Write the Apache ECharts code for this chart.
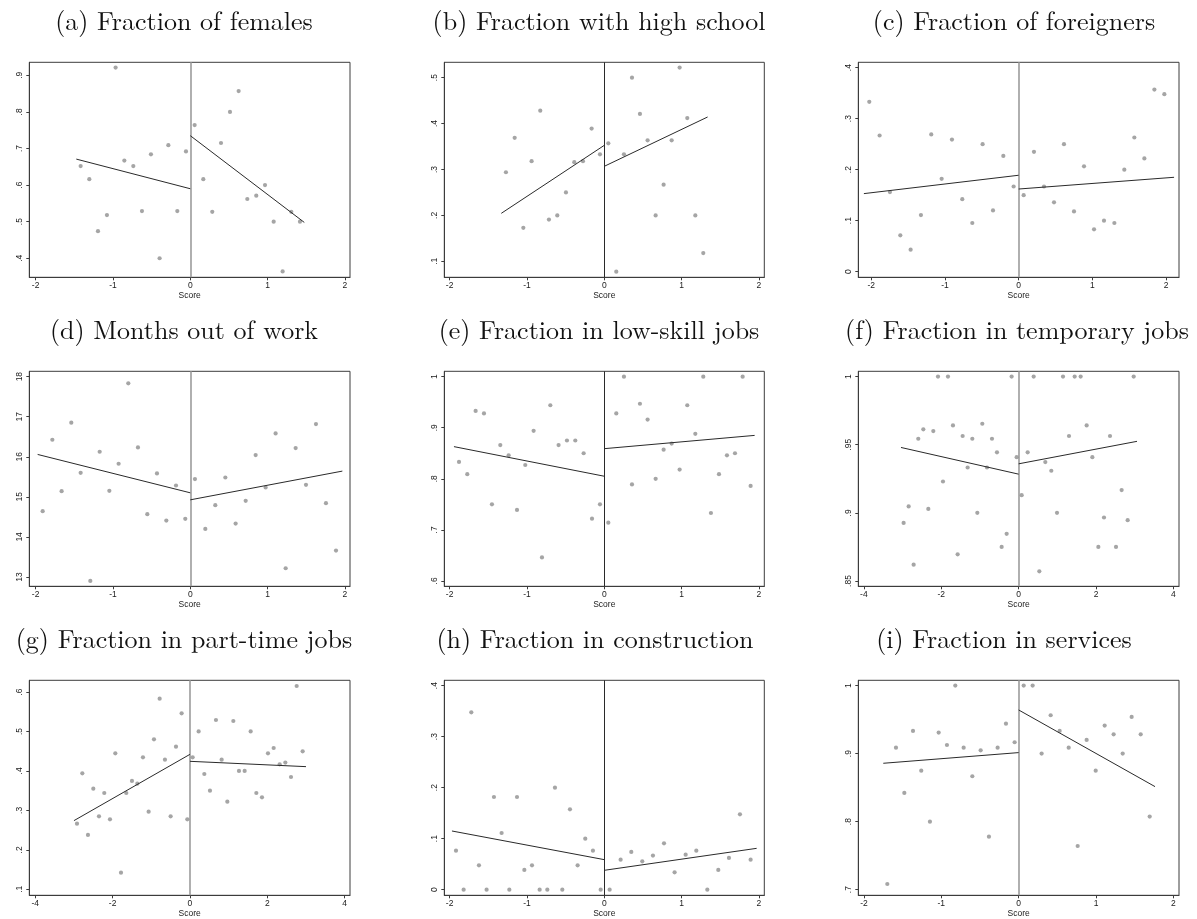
<!DOCTYPE html>
<html><head><meta charset="utf-8">
<script src="https://cdn.jsdelivr.net/npm/echarts@6/dist/echarts.min.js"></script>
<style>html,body{margin:0;padding:0;background:#fff}#c{width:1197px;height:919px}</style>
</head><body><div id="c"></div>
<script>
// ---------- data ----------
const titles = ['(a) Fraction of females','(b) Fraction with high school','(c) Fraction of foreigners',
  '(d) Months out of work','(e) Fraction in low-skill jobs','(f) Fraction in temporary jobs',
  '(g) Fraction in part-time jobs','(h) Fraction in construction','(i) Fraction in services'];

const aScore = [-1.418,-1.306,-1.194,-1.078,-0.966,-0.853,-0.737,-0.625,-0.509,-0.397,-0.284,-0.168,-0.056,0.056,0.168,0.284,0.397,0.513,0.625,0.737,0.853,0.966,1.078,1.194,1.306,1.418];
const aValue = [.652,.616,.474,.518,.921,.667,.652,.529,.684,.400,.709,.529,.692,.764,.616,.527,.715,.800,.857,.562,.571,.600,.500,.364,.527,.500];
const aFitL = [[-1.474,.671],[0,.590]];
const aFitR = [[0,.735],[1.474,.498]];
const aXTicks = [-2,-1,0,1,2];
const aYTicks = [.4,.5,.6,.7,.8,.9];

const bScore = [-1.272,-1.159,-1.047,-0.940,-0.828,-0.716,-0.608,-0.496,-0.388,-0.276,-0.164,-0.056,0.052,0.155,0.254,0.358,0.461,0.560,0.664,0.767,0.871,0.974,1.073,1.177,1.280];
const bValue = [.294,.369,.173,.318,.428,.191,.200,.250,.316,.318,.389,.333,.357,.0775,.333,.500,.421,.3635,.200,.267,.3635,.522,.412,.200,.118];
const bFitL = [[-1.332,.2045],[0,.3526]];
const bFitR = [[0,.3069],[1.336,.4143]];
const bXTicks = [-2,-1,0,1,2];
const bYTicks = [.1,.2,.3,.4,.5];

const cScore = [-2.027,-1.887,-1.747,-1.606,-1.466,-1.326,-1.186,-1.045,-0.905,-0.765,-0.629,-0.489,-0.348,-0.208,-0.068,0.068,0.208,0.344,0.480,0.615,0.751,0.887,1.023,1.158,1.299,1.434,1.570,1.706,1.842,1.977];
const cValue = [.333,.267,.156,.0712,.0431,.111,.269,.182,.259,.142,.0954,.250,.120,.227,.167,.150,.235,.167,.136,.250,.118,.2065,.083,.100,.0954,.200,.263,.222,.357,.348];
const cFitL = [[-2.100,.153],[0,.189]];
const cFitR = [[0,.162],[2.109,.185]];
const cXTicks = [-2,-1,0,1,2];
const cYTicks = [0,.1,.2,.3,.4];

const dScore = [-1.909,-1.784,-1.664,-1.539,-1.418,-1.293,-1.172,-1.047,-0.927,-0.802,-0.677,-0.556,-0.431,-0.310,-0.185,-0.065,0.060,0.194,0.323,0.453,0.586,0.716,0.845,0.974,1.103,1.233,1.362,1.496,1.625,1.754,1.884];
const dValue = [14.642,16.425,15.142,16.85,15.6,12.9,16.125,15.15,15.825,17.833,16.233,14.567,15.583,14.408,15.283,14.45,15.442,14.2,14.792,15.483,14.333,14.9,16.042,15.233,16.583,13.217,16.217,15.3,16.817,14.842,13.658];
const dFitL = [[-1.974,16.058],[0,15.1]];
const dFitR = [[0,14.925],[1.966,15.642]];
const dXTicks = [-2,-1,0,1,2];
const dYTicks = [13,14,15,16,17,18];

const eScore = [-1.879,-1.772,-1.664,-1.556,-1.453,-1.345,-1.237,-1.129,-1.022,-0.914,-0.806,-0.698,-0.591,-0.483,-0.375,-0.267,-0.159,-0.056,0.052,0.155,0.254,0.358,0.461,0.560,0.664,0.767,0.871,0.974,1.073,1.177,1.280,1.379,1.483,1.586,1.690,1.789,1.892];
const eValue = [.833,.809,.933,.928,.750,.866,.846,.739,.827,.894,.646,.944,.866,.875,.875,.850,.722,.750,.714,.928,1,.789,.947,.916,.800,.857,.869,.818,.944,.888,1,.733,.809,.846,.850,1,.786];
const eFitL = [[-1.944,.863],[0,.805]];
const eFitR = [[0,.859],[1.944,.885]];
const eXTicks = [-2,-1,0,1,2];
const eYTicks = [.6,.7,.8,.9,1];

const fScore = [-2.972,-2.842,-2.713,-2.593,-2.463,-2.334,-2.205,-2.084,-1.955,-1.826,-1.697,-1.576,-1.447,-1.318,-1.197,-1.068,-0.939,-0.818,-0.689,-0.560,-0.439,-0.310,-0.181,-0.052,0.078,0.233,0.388,0.534,0.689,0.844,0.991,1.146,1.301,1.447,1.602,1.757,1.904,2.059,2.205,2.360,2.515,2.661,2.817,2.972];
const fValue = [.8926,.9047,.862,.9544,.9613,.9029,.96,1,.923,1,.9642,.8696,.9564,.9333,.9544,.9,.9654,.9333,.9544,.9444,.875,.8846,1,.9409,.913,.9444,1,.8571,.9373,.9309,.9,1,.9564,1,1,.9642,.9409,.875,.8966,.9564,.875,.9167,.8946,1];
const fFitL = [[-3.040,.948],[0,.9284]];
const fFitR = [[0,.936],[3.058,.9525]];
const fXTicks = [-4,-2,0,2,4];
const fYTicks = [.85,.9,.95,1];

const gScore = [-2.922,-2.784,-2.638,-2.5,-2.353,-2.216,-2.069,-1.931,-1.784,-1.647,-1.5,-1.362,-1.216,-1.069,-0.931,-0.784,-0.647,-0.5,-0.362,-0.216,-0.069,0.069,0.224,0.371,0.517,0.672,0.819,0.966,1.121,1.267,1.414,1.569,1.716,1.862,2.017,2.164,2.319,2.466,2.612,2.759,2.914];
const gValue = [.2664,.3939,.2377,.355,.285,.344,.2774,.4446,.1422,.344,.3745,.3677,.4345,.2968,.48,.5831,.4285,.285,.4615,.5459,.2774,.4345,.5,.3922,.35,.529,.4285,.3221,.5265,.4,.4,.5,.344,.3331,.4446,.4581,.4167,.421,.3846,.6152,.4497];
const gFitL = [[-3.0,.274],[0,.442]];
const gFitR = [[0,.4243],[3.0,.4108]];
const gXTicks = [-4,-2,0,2,4];
const gYTicks = [.1,.2,.3,.4,.5,.6];

const hScore = [-1.918,-1.819,-1.720,-1.621,-1.522,-1.427,-1.328,-1.228,-1.129,-1.034,-0.935,-0.836,-0.737,-0.638,-0.543,-0.444,-0.345,-0.246,-0.147,-0.047,0.069,0.211,0.349,0.491,0.629,0.772,0.909,1.052,1.190,1.332,1.474,1.612,1.754,1.892];
const hValue = [.0765,0,.3477,.0477,0,.1817,.1111,0,.1817,.0386,.0477,0,0,.2,0,.1575,.0477,.1,.0765,0,0,.0588,.0739,.0556,.0667,.0908,.034,.0686,.0765,0,.0386,.0621,.1477,.0588];
const hFitL = [[-1.970,.115],[0,.0588]];
const hFitR = [[0,.0379],[1.970,.081]];
const hXTicks = [-2,-1,0,1,2];
const hYTicks = [0,.1,.2,.3,.4];

const iScore = [-1.698,-1.586,-1.478,-1.366,-1.259,-1.147,-1.034,-0.927,-0.819,-0.711,-0.599,-0.491,-0.384,-0.272,-0.164,-0.052,0.065,0.181,0.297,0.414,0.530,0.647,0.763,0.879,0.996,1.112,1.228,1.345,1.461,1.578,1.694];
const iValue = [.7083,.9088,.8422,.9333,.875,.8,.9309,.9127,1,.9088,.8667,.9049,.7779,.9088,.9441,.9167,1,1,.9,.9564,.9333,.9088,.7642,.9201,.875,.9412,.9284,.9,.9539,.9284,.8074];
const iFitL = [[-1.75,.8858],[0,.9015]];
const iFitR = [[0,.9642],[1.763,.8515]];
const iXTicks = [-2,-1,0,1,2];
const iYTicks = [.7,.8,.9,1];

// ---------- panel assembly ----------
const panelData = [
  [aScore,aValue,aFitL,aFitR,aXTicks,aYTicks],
  [bScore,bValue,bFitL,bFitR,bXTicks,bYTicks],
  [cScore,cValue,cFitL,cFitR,cXTicks,cYTicks],
  [dScore,dValue,dFitL,dFitR,dXTicks,dYTicks],
  [eScore,eValue,eFitL,eFitR,eXTicks,eYTicks],
  [fScore,fValue,fFitL,fFitR,fXTicks,fYTicks],
  [gScore,gValue,gFitL,gFitR,gXTicks,gYTicks],
  [hScore,hValue,hFitL,hFitR,hXTicks,hYTicks],
  [iScore,iValue,iFitL,iFitR,iXTicks,iYTicks]
];
// layout / style (kept apart from the data)
const xRange = [[-2.082,2.065],[-2.069,2.069],[-2.176,2.176],[-2.082,2.065],[-2.069,2.069],[-4.143,4.143],[-4.155,4.138],[-2.069,2.069],[-2.073,2.073]];
const yRange = [[0.348,0.9355],[0.0652,0.5334],[-0.0111,0.4105],[12.767,18.133],[0.5895,1.0105],[0.8461,1.0039],[0.0848,0.6296],[-0.0111,0.4105],[0.6917,1.0078]];
const darkZeroLine = [false,true,false,false,true,false,false,true,false];
const colLeft = [29.3,444.3,858.3], colWidth = [320.7,320,320.7];
const rowTop = [62.3,371.3,680.3], rowHeight = 215;
const titleCenter = [179,594,1009,179,594,1012,179,590,999];
const titleTop = [4,313,622];

const AX = '#3c3c3c', TXT = '#1a1a1a', SANS = '"Liberation Sans", Arial, Helvetica, sans-serif';
function fmt(v){
  const s = String(Math.round(v*1000)/1000);
  return s.replace(/^0\./,'.').replace(/^-0\./,'-.');
}

const option = {animation:false, backgroundColor:'#fff', title:[], grid:[], xAxis:[], yAxis:[], series:[]};
panelData.forEach((p,i)=>{
  const [score,val,fitL,fitR,xT,yT] = p;
  const r = Math.floor(i/3), c = i%3;
  option.title.push({text:titles[i], left:titleCenter[i], top:titleTop[r], textAlign:'center',
    textStyle:{fontFamily:'"Latin Modern Roman","CMU Serif","Liberation Serif","Times New Roman",serif', fontSize:26, fontWeight:'normal', color:'#111'}});
  option.grid.push({left:colLeft[c], top:rowTop[r], width:colWidth[c], height:rowHeight,
    show:true, borderColor:AX, borderWidth:1, backgroundColor:'#fff', containLabel:false, outerBoundsMode:'none'});
  option.xAxis.push({gridIndex:i, type:'value', min:xRange[i][0], max:xRange[i][1],
    axisLine:{show:true, onZero:false, lineStyle:{color:AX, width:1}},
    axisTick:{show:true, length:3, customValues:xT, lineStyle:{color:AX}},
    axisLabel:{customValues:xT, formatter:fmt, fontSize:8.5, color:TXT, margin:4, fontFamily:SANS},
    splitLine:{show:false},
    name:'Score', nameLocation:'middle', nameGap:14, nameTextStyle:{fontSize:8.5, color:TXT, fontFamily:SANS}});
  option.yAxis.push({gridIndex:i, type:'value', min:yRange[i][0], max:yRange[i][1],
    axisLine:{show:true, onZero:false, lineStyle:{color:AX, width:1}},
    axisTick:{show:true, length:3, customValues:yT, lineStyle:{color:AX}},
    axisLabel:{customValues:yT, formatter:fmt, rotate:90, fontSize:8.5, color:TXT, margin:5, fontFamily:SANS},
    splitLine:{show:false}});
  option.series.push({type:'scatter', xAxisIndex:i, yAxisIndex:i, symbol:'circle', symbolSize:4.2,
    itemStyle:{color:'#8e8e8e'}, data:score.map((x,k)=>[x,val[k]]), z:3,
    markLine:{silent:true, symbol:'none', label:{show:false},
      lineStyle: darkZeroLine[i] ? {color:'#2a2a2a', width:1, type:'solid'} : {color:'#9c9c9c', width:1.6, type:'solid'},
      data:[{xAxis:0}], z:1}});
  [fitL,fitR].forEach(f=>{
    option.series.push({type:'line', xAxisIndex:i, yAxisIndex:i, data:f, showSymbol:false, symbol:'none',
      lineStyle:{color:'#2a2a2a', width:1}, z:4, silent:true});
  });
});
const chart = echarts.init(document.getElementById('c'), null, {renderer:'canvas'});
chart.setOption(option);
</script></body></html>
